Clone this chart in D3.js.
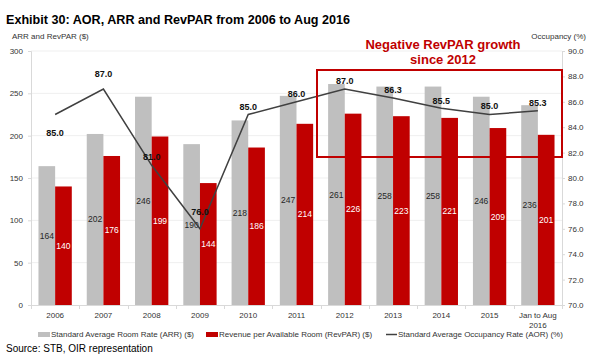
<!DOCTYPE html>
<html>
<head>
<meta charset="utf-8">
<script src="https://cdn.jsdelivr.net/npm/d3@7"></script>
<style>
  html, body { margin: 0; padding: 0; background: #fff; }
  svg { display: block; }
  text { font-family: "Liberation Sans", Arial, sans-serif; }
</style>
</head>
<body>
<svg id="chart" width="600" height="360"></svg>
<script>
const categories = ["2006","2007","2008","2009","2010","2011","2012","2013","2014","2015","Jan to Aug 2016"];
const arrValues = [164, 202, 246, 190, 218, 247, 261, 258, 258, 246, 236];
const revparValues = [140, 176, 199, 144, 186, 214, 226, 223, 221, 209, 201];
const aorValues = [85.0, 87.0, 81.0, 76.0, 85.0, 86.0, 87.0, 86.3, 85.5, 85.0, 85.3];
const leftTicks = [0, 50, 100, 150, 200, 250, 300];
const rightTicks = [70, 72, 74, 76, 78, 80, 82, 84, 86, 88, 90];
const seriesNames = ["Standard Average Room Rate (ARR) ($)", "Revenue per Available Room (RevPAR) ($)", "Standard Average Occupancy Rate (AOR) (%)"];

const GREY = "#bfbfbf", RED = "#c00000", LINE = "#404040";
const svg = d3.select("#chart");
const pL = 31, pR = 562, pT = 51, pB = 305;

const x = d3.scaleBand().domain(categories).range([pL, pR]).paddingInner(0.31).paddingOuter(0.155);
const xSub = d3.scaleBand().domain(["arr","rev"]).range([0, x.bandwidth()]).padding(0);
const yL = d3.scaleLinear().domain([0, 300]).range([pB, pT]);
const yR = d3.scaleLinear().domain([70, 90]).range([pB, pT]);

// Title
svg.append("text").attr("x", 6).attr("y", 24).attr("font-family", "DejaVu Sans")
  .attr("font-weight", "bold").attr("font-size", 12.6).attr("fill", "#000")
  .text("Exhibit 30: AOR, ARR and RevPAR from 2006 to Aug 2016");

// axis titles
svg.append("text").attr("x", 12).attr("y", 39).attr("font-size", 8).attr("fill", "#333").text("ARR and RevPAR ($)");
svg.append("text").attr("x", 586).attr("y", 39).attr("font-size", 8).attr("fill", "#333").attr("text-anchor", "end").text("Occupancy (%)");

// gridlines
svg.append("g").selectAll("line").data(leftTicks.filter(d => d > 0)).join("line")
  .attr("x1", pL).attr("x2", pR).attr("y1", d => yL(d)).attr("y2", d => yL(d))
  .attr("stroke", "#efefef").attr("stroke-width", 1);

// left axis
const gL = svg.append("g").attr("transform", `translate(${pL},0)`)
  .call(d3.axisLeft(yL).tickValues(leftTicks).tickSize(3).tickPadding(5).tickFormat(d3.format("d")));
gL.select(".domain").attr("stroke", "#d9d9d9");
gL.selectAll(".tick line").attr("stroke", "#d9d9d9");
gL.selectAll("text").attr("font-size", 8).attr("fill", "#333").attr("font-family", "Liberation Sans");

// right axis
const gR = svg.append("g").attr("transform", `translate(${pR},0)`)
  .call(d3.axisRight(yR).tickValues(rightTicks).tickSize(3).tickPadding(3).tickFormat(d3.format(".1f")));
gR.select(".domain").attr("stroke", "#d9d9d9");
gR.selectAll(".tick line").attr("stroke", "#d9d9d9");
gR.selectAll("text").attr("font-size", 8).attr("fill", "#333").attr("font-family", "Liberation Sans");

// bottom axis
svg.append("line").attr("x1", pL).attr("x2", pR).attr("y1", pB + 0.5).attr("y2", pB + 0.5).attr("stroke", "#d9d9d9");
const bounds = d3.range(categories.length + 1).map(i => pL + (pR - pL) * i / categories.length);
svg.append("g").selectAll("line").data(bounds).join("line")
  .attr("x1", d => Math.round(d) + 0.5).attr("x2", d => Math.round(d) + 0.5)
  .attr("y1", pB).attr("y2", pB + 4).attr("stroke", "#d9d9d9");

// x labels
const xl = svg.append("g").selectAll("text").data(categories).join("text")
  .attr("x", d => x(d) + x.bandwidth() / 2).attr("y", 318)
  .attr("text-anchor", "middle").attr("font-size", 8).attr("fill", "#333");
xl.each(function(d) {
  const t = d3.select(this);
  if (d.startsWith("Jan")) {
    t.append("tspan").attr("x", x(d) + x.bandwidth() / 2).text("Jan to Aug");
    t.append("tspan").attr("x", x(d) + x.bandwidth() / 2).attr("dy", 10).text("2016");
  } else t.text(d);
});

// bars
const groups = svg.append("g").selectAll("g").data(categories).join("g")
  .attr("transform", d => `translate(${x(d)},0)`);
groups.append("rect").attr("x", xSub("arr")).attr("width", xSub.bandwidth())
  .attr("y", (d, i) => yL(arrValues[i])).attr("height", (d, i) => pB - yL(arrValues[i])).attr("fill", GREY);
groups.append("rect").attr("x", xSub("rev")).attr("width", xSub.bandwidth())
  .attr("y", (d, i) => yL(revparValues[i])).attr("height", (d, i) => pB - yL(revparValues[i])).attr("fill", RED);
groups.append("text").attr("x", xSub("arr") + xSub.bandwidth() / 2)
  .attr("y", (d, i) => (yL(arrValues[i]) + pB) / 2 + 3)
  .attr("text-anchor", "middle").attr("font-size", 8.5).attr("fill", "#262626")
  .text((d, i) => arrValues[i]);
groups.append("text").attr("x", xSub("rev") + xSub.bandwidth() / 2)
  .attr("y", (d, i) => (yL(revparValues[i]) + pB) / 2 + 3)
  .attr("text-anchor", "middle").attr("font-size", 8.5).attr("fill", "#fff")
  .text((d, i) => revparValues[i]);

// line
const cx = c => x(c) + x.bandwidth() / 2;
const line = d3.line().x((d, i) => cx(categories[i])).y(d => yR(d));
svg.append("path").datum(aorValues).attr("d", line).attr("fill", "none")
  .attr("stroke", LINE).attr("stroke-width", 1.5);

const labelDy = [21, -12, -5, -14, -5, -5, -5, -5, -4, -6, -5];
svg.append("g").selectAll("text").data(aorValues).join("text")
  .attr("x", (d, i) => cx(categories[i])).attr("y", (d, i) => yR(d) + labelDy[i])
  .attr("text-anchor", "middle").attr("font-size", 9).attr("font-weight", "bold").attr("fill", "#111")
  .text(d => d3.format(".1f")(d));

// annotation box
svg.append("rect").attr("x", 317).attr("y", 70).attr("width", 245).attr("height", 87)
  .attr("fill", "none").attr("stroke", RED).attr("stroke-width", 2);
svg.append("text").attr("x", 443).attr("y", 49).attr("text-anchor", "middle")
  .attr("font-size", 13).attr("font-weight", "bold").attr("fill", RED).text("Negative RevPAR growth");
svg.append("text").attr("x", 443).attr("y", 64).attr("text-anchor", "middle")
  .attr("font-size", 13).attr("font-weight", "bold").attr("fill", RED).text("since 2012");

// legend
const lg = svg.append("g").attr("font-size", 8).attr("fill", "#333");
lg.append("rect").attr("x", 38).attr("y", 332).attr("width", 12).attr("height", 5).attr("fill", GREY);
lg.append("text").attr("x", 51).attr("y", 337).text(seriesNames[0]);
lg.append("rect").attr("x", 206).attr("y", 332).attr("width", 12).attr("height", 5).attr("fill", RED);
lg.append("text").attr("x", 219).attr("y", 337).text(seriesNames[1]);
lg.append("line").attr("x1", 386).attr("x2", 397).attr("y1", 334.5).attr("y2", 334.5).attr("stroke", LINE).attr("stroke-width", 1.5);
lg.append("text").attr("x", 398).attr("y", 337).text(seriesNames[2]);

// source
svg.append("text").attr("x", 6).attr("y", 352).attr("font-family", "DejaVu Sans")
  .attr("font-size", 10).attr("fill", "#000").text("Source: STB, OIR representation");
</script>
</body>
</html>
